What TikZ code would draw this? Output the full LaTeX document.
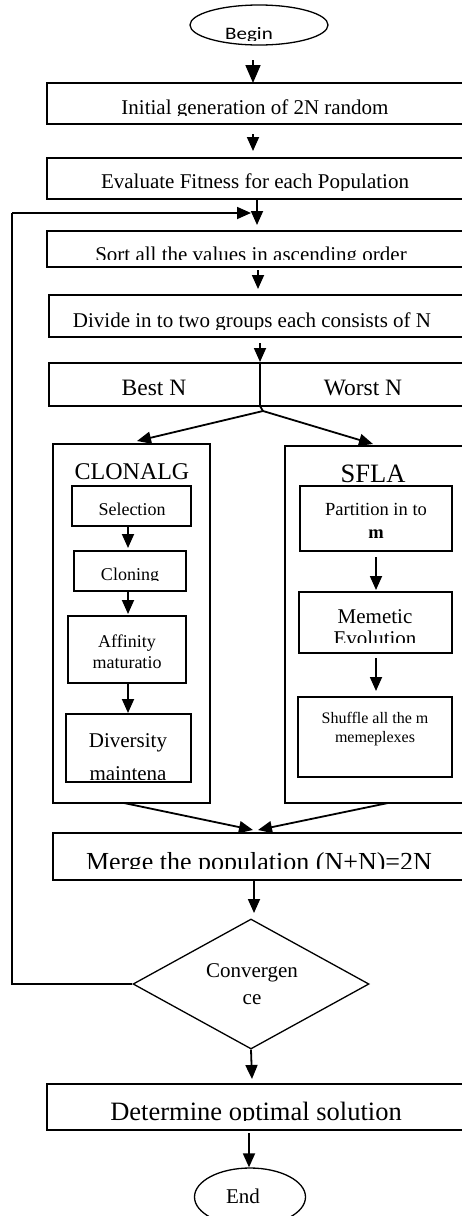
\documentclass[tikz,border=0pt]{standalone}
\usepackage{fontspec}
\setmainfont{Liberation Serif}
\newfontfamily\calfont{Carlito}
\usetikzlibrary{arrows.meta,shapes.geometric}
\newcommand\fsz[1]{\fontsize{#1pt}{#1pt}\selectfont}
\begin{document}
\begin{tikzpicture}[x=1pt,y=-1pt,
  box/.style={draw, line width=1.5pt, rectangle, anchor=north west, inner sep=0pt, outer sep=0pt},
  arr/.style={line width=1.8pt, -{Triangle[length=14pt,width=12pt]}},
  bigarr/.style={line width=1.8pt, -{Triangle[length=18pt,width=15pt]}},
  ln/.style={line width=1.8pt},
  txt/.style={anchor=base, inner sep=0pt, outer sep=0pt},
]
\useasboundingbox (0,0) rectangle (462,1216);
\clip (0,0) rectangle (462,1216);

% ---------- terminals
\node[draw, ellipse, line width=1.3pt, minimum width=138pt, minimum height=40pt, inner sep=0pt] (begin) at (259,25) {};
\begin{scope}
\clip (190,5) rectangle (330,40.5);
\node[txt, font=\calfont\fsz{17.5}] (begint) at (249,39.8) {\scalebox{1.2}[1]{Begin}};
\end{scope}

\node[draw, ellipse, line width=1.3pt, minimum width=111pt, minimum height=58pt, inner sep=0pt] (end) at (250,1197) {};
\node[txt, font=\fsz{21}] (endt) at (243,1203) {End};

% ---------- main boxes
\node[box, minimum width=430pt, minimum height=41pt] (b1) at (47,83) {};
\begin{scope}\clip (47,83) rectangle (477,115);
\node[txt, font=\fsz{21}] (b1t) at (255,114) {Initial generation of 2N random};
\end{scope}

\node[box, minimum width=430pt, minimum height=41pt] (b2) at (47,158) {};
\begin{scope}\clip (47,158) rectangle (477,190);
\node[txt, font=\fsz{21}] (b2t) at (255,188) {Evaluate Fitness for each Population};
\end{scope}

\node[box, minimum width=430pt, minimum height=36pt] (b3) at (47,231) {};
\begin{scope}\clip (47,231) rectangle (477,259);
\node[txt, font=\fsz{21}] (b3t) at (251,261) {Sort all the values in ascending order};
\end{scope}

\node[box, minimum width=430pt, minimum height=42pt] (b4) at (49,295) {};
\begin{scope}\clip (49,295) rectangle (479,329);
\node[txt, font=\fsz{21}] (b4t) at (252,327) {Divide in to two groups each consists of N};
\end{scope}

\node[box, minimum width=211pt, minimum height=43pt] (best) at (49,363) {};
\node[box, minimum width=206pt, minimum height=43pt] (worst) at (260,363) {};
\node[txt, font=\fsz{23.5}] (bestt) at (154,395) {Best N};
\node[txt, font=\fsz{23.5}] (worstt) at (363,395) {Worst N};

% ---------- CLONALG
\node[box, minimum width=157pt, minimum height=359pt] (clon) at (53,444) {};
\node[txt, font=\fsz{24}] (clont) at (132,479) {CLONALG};
\node[box, minimum width=119pt, minimum height=40pt] (sel) at (72,486) {};
\node[txt, font=\fsz{18}] (selt) at (132,515) {Selection};
\node[box, minimum width=112pt, minimum height=40pt] (clo) at (74,551) {};
\begin{scope}\clip (74,551) rectangle (186,580);
\node[txt, font=\fsz{18}] (clot) at (130,580) {Cloning};
\end{scope}
\node[box, minimum width=118pt, minimum height=67pt] (aff) at (68,616) {};
\node[txt, font=\fsz{18}] (afft1) at (127,647) {Affinity};
\node[txt, font=\fsz{18}] (afft2) at (127,668) {maturatio};
\node[box, minimum width=125pt, minimum height=68pt] (div) at (66,714) {};
\node[txt, font=\fsz{21}] (divt1) at (128,747) {Diversity};
\begin{scope}\clip (66,714) rectangle (191,779);
\node[txt, font=\fsz{21}] (divt2) at (128,780) {maintena};
\end{scope}

% ---------- SFLA
\node[box, minimum width=190pt, minimum height=357pt] (sfla) at (285,446) {};
\node[txt, font=\fsz{26.5}] (sflat) at (373,482) {SFLA};
\node[box, minimum width=152pt, minimum height=65pt] (part) at (300,486) {};
\node[txt, font=\fsz{18.5}] (partt1) at (376,515) {Partition in to};
\node[txt, font=\fsz{18.5}\bfseries] (partt2) at (376,538) {m};
\node[box, minimum width=153pt, minimum height=61pt] (mem) at (299,592) {};
\node[txt, font=\fsz{21}] (memt1) at (375,623) {Memetic};
\begin{scope}\clip (299,592) rectangle (452,642);
\node[txt, font=\fsz{21}] (memt2) at (375,645) {Evolution};
\end{scope}
\node[box, minimum width=154pt, minimum height=80pt] (shuf) at (298,697) {};
\node[txt, font=\fsz{16}] (shuft1) at (375,723) {Shuffle all the m};
\node[txt, font=\fsz{16}] (shuft2) at (375,742) {memeplexes};

% ---------- merge, decision, result
\node[box, minimum width=420pt, minimum height=47pt] (merge) at (53,833) {};
\begin{scope}\clip (53,833) rectangle (473,868);
\node[txt, font=\fsz{26}] (merget) at (259,870) {Merge the population (N+N)=2N};
\end{scope}

\node[draw, diamond, line width=1.3pt, minimum width=236pt, minimum height=130pt, inner sep=0pt] (conv) at (251,984) {};
\node[txt, font=\fsz{21}] (convt1) at (252,977) {Convergen};
\node[txt, font=\fsz{21}] (convt2) at (252,1004) {ce};

\node[box, minimum width=430pt, minimum height=46pt] (det) at (47,1084) {};
\begin{scope}\clip (47,1084) rectangle (477,1120);
\node[txt, font=\fsz{26.5}] (dett) at (256,1120) {Determine optimal solution};
\end{scope}

% ---------- connectors
\coordinate (a1s) at (253,60);
\draw[bigarr] (a1s) -- (a1s |- b1.north);
\coordinate (a2s) at (253,134);
\draw[arr] (a2s) -- (253,151);
\coordinate (a3s) at (257,198);
\coordinate (a3e) at (257,225);
\draw[arr] (a3s) -- (a3e);
\coordinate (loopin) at (251,213);
\coordinate (loopc) at (12,213);
\draw[ln, line width=1.6pt] (conv.west) -- (12,984) -- (loopc);
\draw[arr] (loopc) -- (loopin);
\coordinate (a4s) at (258,270);
\draw[arr] (a4s) -- (258,289);
\coordinate (a5s) at (260,343);
\draw[arr] (a5s) -- (260,362);
\coordinate (apex) at (263,411);
\draw[ln] (worst.south west) -- (apex);
\coordinate (lt) at (137,441);
\coordinate (rt) at (373,444);
\draw[arr] (apex) -- (lt);
\draw[arr] (apex) -- (rt);
\draw[arr] (sel.south -| 128,0) -- (128,548);
\draw[arr] (clo.south -| 128,0) -- (128,614);
\draw[arr] (aff.south -| 128,0) -- (128,713);
\draw[arr] (376,557) -- (376,590);
\draw[arr] (376,658) -- (376,691);
\coordinate (mt1) at (253,830);
\coordinate (mt2) at (258,830);
\draw[arr] (124,803) -- (mt1);
\draw[arr] (388,803) -- (mt2);
\draw[arr] (merge.south -| 254,0) -- (254,913);
\draw[arr] (conv.south) -- (252,1079);
\draw[arr] (249,1133) -- (end.north -| 249,0);
\end{tikzpicture}
\end{document}
